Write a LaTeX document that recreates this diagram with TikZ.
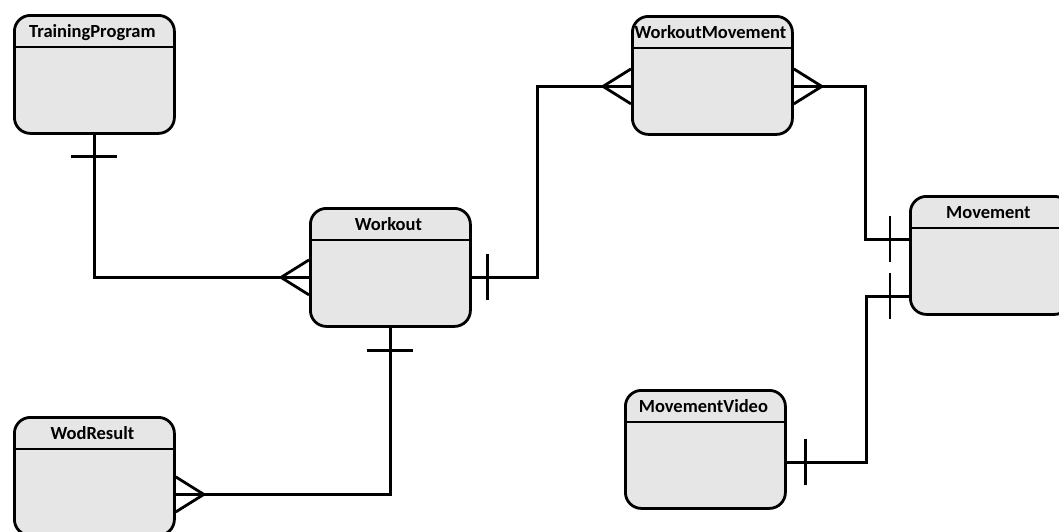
\documentclass[tikz,border=0pt]{standalone}
\usepackage{fontspec}
\setmainfont{Carlito}
\usepackage{tikz}
\usetikzlibrary{positioning,calc}
\definecolor{eFill}{RGB}{230,230,230}
\tikzset{
  ent/.style={rectangle, rounded corners=16pt, draw=black, fill=eFill,
              line width=2.8pt, minimum width=160pt, minimum height=118pt,
              inner sep=0pt, anchor=north west},
  enthead/.style={anchor=base, inner sep=0pt,
                  font=\fontsize{18.5}{21}\selectfont\bfseries},
  rel/.style={draw=black, line width=2.8pt},
}
% entity box with a header strip
\newcommand{\Entity}[3]{%
  \node[ent] (#1) at (#2) {};
  \draw[rel] ($(#1.north west)+(0,33)$) -- ($(#1.north east)+(0,33)$);
  \node[enthead] (#1-h) at ($(#1.north)+(-2,23)$) {#3};}
% "one" bar: point, direction angle, distance
\newcommand{\ErOne}[3]{%
  \draw[rel] ($(#1)+(#2:#3)+(#2+90:23)$) -- ($(#1)+(#2:#3)+(#2-90:23)$);}
% "many" crow's foot: point, direction angle
\newcommand{\ErMany}[2]{%
  \draw[rel] ($(#1)+(#2+90:17.5)$) -- ($(#1)+(#2:28)$) -- ($(#1)+(#2-90:17.5)$);}

\begin{document}
\begin{tikzpicture}[x=1pt,y=-1pt]
  \clip (0,0) rectangle (1059,531);

  \Entity{tp}{13,14}{TrainingProgram}
  \Entity{wo}{309,207}{Workout}
  \Entity{wm}{631,15}{WorkoutMovement}
  \Entity{mv}{909,195}{Movement}
  \Entity{mvv}{624,389}{MovementVideo}
  \Entity{wr}{13,416}{WodResult}

  \coordinate (wo-l) at ($(wo.west)+(0,10)$);
  \coordinate (wo-r) at ($(wo.east)+(0,10)$);
  \coordinate (wm-l) at ($(wm.west)+(0,11)$);
  \coordinate (wm-r) at ($(wm.east)+(0,11)$);
  \coordinate (mv-a) at ($(mv.west)+(0,-16)$);
  \coordinate (mv-b) at ($(mv.west)+(0,41)$);
  \coordinate (mvv-r) at ($(mvv.east)+(0,13)$);
  \coordinate (wr-r) at ($(wr.east)+(0,18)$);

  % relationships
  \draw[rel] (tp.south) |- (wo-l);
  \ErOne{tp.south}{90}{22}
  \ErMany{wo-l}{180}

  \draw[rel] (wo-r) -- ++(66,0) |- (wm-l);
  \ErOne{wo-r}{0}{16}
  \ErMany{wm-l}{180}

  \draw[rel] (wm-r) -- ++(72,0) |- (mv-a);
  \ErMany{wm-r}{0}
  \ErOne{mv-a}{180}{19}

  \draw[rel] (mvv-r) -- ++(80,0) |- (mv-b);
  \ErOne{mvv-r}{0}{19}
  \ErOne{mv-b}{180}{19}

  \draw[rel] (wo.south) |- (wr-r);
  \ErOne{wo.south}{90}{23}
  \ErMany{wr-r}{0}
\end{tikzpicture}
\end{document}
